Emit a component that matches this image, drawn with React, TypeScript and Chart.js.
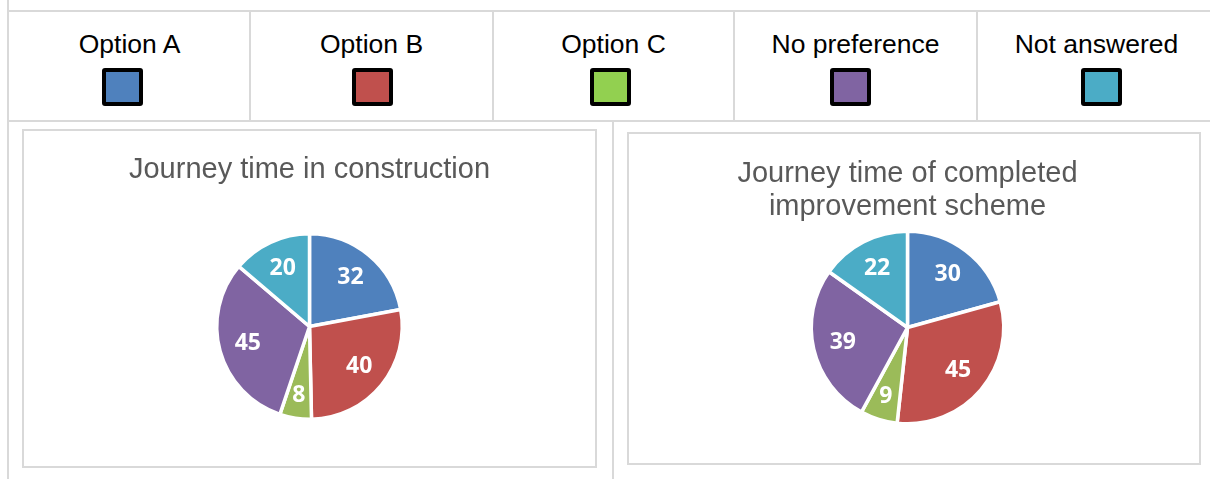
import React, { useEffect, useRef } from "react";
import { Chart, registerables } from "chart.js";

Chart.register(...registerables);

// ---- Data ----
const categories = ["Option A", "Option B", "Option C", "No preference", "Not answered"];
const constructionValues = [32, 40, 8, 45, 20];
const completedValues = [30, 45, 9, 39, 22];
const pieColors = ["#4F81BD", "#C0504D", "#9BBB59", "#8064A2", "#4BACC6"];
const legendColors = ["#4F81BD", "#C0504D", "#92D050", "#8064A2", "#4BACC6"];
const constructionTitle = ["Journey time in construction"];
const completedTitle = ["Journey time of completed", "improvement scheme"];

// ---- Layout / style constants ----
const GRID = "#d9d9d9";
const columnEdges = [9, 250, 493, 734, 977, 1216];
const swatchOffsets = [-7, 1, -3, -5.5, 5];

const sliceLabels = {
  id: "sliceLabels",
  afterDatasetsDraw(chart: any) {
    const ctx = chart.ctx;
    const meta = chart.getDatasetMeta(0);
    const data = chart.data.datasets[0].data as number[];
    ctx.save();
    ctx.font = "bold 23px 'Open Sans'";
    ctx.fillStyle = "#ffffff";
    ctx.textAlign = "center";
    ctx.textBaseline = "middle";
    meta.data.forEach((arc: any, i: number) => {
      const p = arc.getProps(["x", "y", "startAngle", "endAngle", "outerRadius"], true);
      const mid = (p.startAngle + p.endAngle) / 2;
      const span = p.endAngle - p.startAngle;
      const f = span < 0.6 ? 0.755 : 0.69;
      ctx.fillText(
        String(data[i]),
        p.x + Math.cos(mid) * p.outerRadius * f,
        p.y + Math.sin(mid) * p.outerRadius * f
      );
    });
    ctx.restore();
  },
};

type PieProps = {
  values: number[];
  title: string[];
  width: number;
  height: number;
  titlePadTop: number;
  titlePadBottom: number;
  lineHeight: number;
  padBottom: number;
  padRight: number;
};

function PieChart(props: PieProps) {
  const ref = useRef<HTMLCanvasElement | null>(null);
  useEffect(() => {
    if (!ref.current) return;
    const chart = new Chart(ref.current, {
      type: "pie",
      data: {
        labels: categories,
        datasets: [
          {
            data: props.values,
            backgroundColor: pieColors,
            borderColor: "#ffffff",
            borderWidth: 3.5,
            hoverBorderWidth: 3.5,
          },
        ],
      },
      options: {
        responsive: false,
        animation: false,
        events: [],
        layout: { padding: { top: 0, left: 0, bottom: props.padBottom, right: props.padRight } },
        plugins: {
          legend: { display: false },
          tooltip: { enabled: false },
          title: {
            display: true,
            text: props.title,
            color: "#595959",
            font: {
              family: "'Liberation Sans', Arial, sans-serif",
              size: 29,
              weight: "normal",
              lineHeight: props.lineHeight,
            },
            padding: { top: props.titlePadTop, bottom: props.titlePadBottom },
          },
        },
      } as any,
      plugins: [sliceLabels as any],
    });
    return () => chart.destroy();
  }, []);
  return (
    <canvas
      ref={ref}
      width={props.width}
      height={props.height}
      style={{ width: props.width, height: props.height, display: "block" }}
    />
  );
}

const abs = (s: React.CSSProperties): React.CSSProperties => ({ position: "absolute", ...s });

export default function App() {
  const cols = categories.map((_, i) => ({
    left: columnEdges[i],
    width: columnEdges[i + 1] - columnEdges[i],
    center: (columnEdges[i] + columnEdges[i + 1]) / 2,
  }));
  return (
    <div
      style={{
        position: "fixed",
        left: 0,
        top: 0,
        width: 1210,
        height: 479,
        overflow: "hidden",
        background: "#ffffff",
        fontFamily: "'Liberation Sans', Arial, sans-serif",
      }}
    >
      {/* table grid lines */}
      <div style={abs({ left: 7, top: 0, width: 2, height: 479, background: GRID })} />
      <div style={abs({ left: 7, top: 10, width: 1220, height: 2, background: GRID })} />
      <div style={abs({ left: 7, top: 120, width: 1220, height: 2, background: GRID })} />
      {columnEdges.slice(1).map((x, i) => (
        <div key={"d" + i} style={abs({ left: x - 1, top: 10, width: 2, height: 111, background: GRID })} />
      ))}
      <div style={abs({ left: 611.5, top: 121, width: 2, height: 360, background: GRID })} />

      {/* legend row */}
      {cols.map((c, i) => (
        <React.Fragment key={"l" + i}>
          <div
            style={abs({
              left: c.left,
              width: c.width,
              top: 28.8,
              height: 30,
              lineHeight: "30px",
              fontSize: 26.5,
              color: "#000",
              textAlign: "center",
              whiteSpace: "nowrap",
            })}
          >
            {categories[i]}
          </div>
          <div
            style={abs({
              left: c.center + swatchOffsets[i] - 20.5,
              top: 68,
              width: 41,
              height: 38,
              boxSizing: "border-box",
              border: "4px solid #000",
              borderRadius: 3,
              background: legendColors[i],
            })}
          />
        </React.Fragment>
      ))}

      {/* chart boxes */}
      <div
        style={abs({
          left: 22,
          top: 129,
          width: 575,
          height: 339,
          boxSizing: "border-box",
          border: `2px solid ${GRID}`,
        })}
      />
      <div style={abs({ left: 24, top: 131 })}>
        <PieChart
          values={constructionValues}
          title={constructionTitle}
          width={571}
          height={335}
          titlePadTop={23}
          titlePadBottom={46}
          lineHeight={32 / 29}
          padBottom={45}
          padRight={0}
        />
      </div>
      <div
        style={abs({
          left: 627,
          top: 132,
          width: 574,
          height: 333,
          boxSizing: "border-box",
          border: `2px solid ${GRID}`,
        })}
      />
      <div style={abs({ left: 629, top: 134 })}>
        <PieChart
          values={completedValues}
          title={completedTitle}
          width={570}
          height={329}
          titlePadTop={24}
          titlePadBottom={6.5}
          lineHeight={32.5 / 29}
          padBottom={37.5}
          padRight={13}
        />
      </div>
    </div>
  );
}
